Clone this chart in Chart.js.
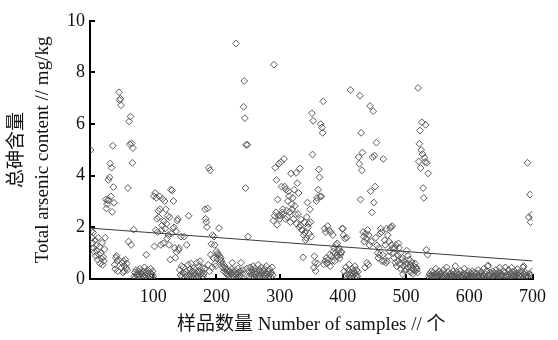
<!DOCTYPE html>
<html>
<head>
<meta charset="utf-8">
<script src="https://cdn.jsdelivr.net/npm/chart.js@4/dist/chart.umd.min.js"></script>
<style>
  body { margin: 0; background: #fff; }
  #wrap { width: 558px; height: 340px; }
</style>
</head>
<body>
<div id="wrap"><canvas id="asChart" width="558" height="340"></canvas></div>
<script>
// Total arsenic content (mg/kg) per sample, 100 samples per array
const arsenic001to100 = [5.0,
  1.85,1.6,1.4,1.8,1.2,1.05,1.5,0.9,1.3,1.1,0.75,1.6,0.95,1.25,0.6,1.0,0.8,1.4,0.55,0.85,0.7,1.15,
  1.6,
  3.08,2.73,2.9,3.05,3.84,3.06,3.94,4.47,3.2,4.31,2.6,5.16,3.56,2.95,
  0.55,0.38,0.82,0.9,0.69,0.3,0.75,7.23,6.92,6.98,6.73,0.44,0.63,0.25,0.69,0.31,0.5,0.75,0.42,0.6,0.35,
  3.52,
  1.45,6.1,5.22,6.29,1.32,5.25,4.5,5.07,1.91,
  0.1,0.25,0.05,0.35,0.15,0.2,0.08,0.3,0.12,0.4,0.05,0.22,0.18,0.1,0.3,0.06,0.45,0.15,0.25,0.94,
  0.1,0.35,0.2,0.05,0.28,0.12,0.4,0.08,0.18,0.3,0.1];
const arsenic101to200 = [3.21,1.26,3.33,1.89,3.14,2.33,1.82,2.64,2.39,3.2,2.7,1.32,1.89,2.08,3.1,1.38,2.23,3.02,1.95,2.7,
  2.14,1.57,2.45,1.7,1.32,2.39,0.75,3.46,1.76,3.43,1.95,3.02,2.0,1.2,0.82,1.85,1.04,2.26,2.33,1.13,
  1.2,0.35,0.15,1.64,0.5,0.1,0.25,0.45,1.64,0.2,0.05,0.3,1.32,0.15,0.55,2.45,0.1,0.38,0.2,0.6,
  0.12,0.3,0.05,0.42,0.2,0.15,0.35,0.08,0.63,0.25,0.1,0.5,0.3,0.69,0.18,0.06,0.44,0.28,0.12,0.2,0.4,
  2.7,2.33,2.2,2.01,2.73,0.55,4.31,0.3,4.21,
  0.94,1.35,0.45,1.7,0.82,1.64,1.32,0.6,0.5,1.07];
const arsenic201to300 = [0.8,1.0,0.94,1.97,0.88,0.75,0.82,0.69,0.6,0.45,0.55,0.3,0.5,0.4,0.25,0.2,0.35,0.15,0.3,
  0.1,0.3,0.05,0.2,0.38,0.63,0.12,0.25,0.08,0.35,0.18,9.12,0.05,0.22,0.4,0.1,0.28,0.15,0.3,0.63,
  0.06,0.2,0.35,6.67,7.67,6.23,3.52,
  5.2,0.4,5.2,1.64,
  0.3,0.1,0.45,0.2,0.05,0.35,0.15,0.5,0.25,0.08,0.4,0.18,0.3,0.05,0.22,0.55,0.12,0.35,0.1,0.28,
  0.45,0.2,0.06,0.32,0.15,0.4,0.1,0.25,0.5,0.18,0.05,0.3,0.12,0.38,0.2,0.08,0.25,0.45,0.15,
  2.26,8.3,2.45,4.31,2.58,3.84,2.1,3.08,2.45,4.47,2.33];
const arsenic301to400 = [2.45,4.53,3.58,2.58,2.7,2.5,4.65,3.58,2.33,3.46,2.65,2.4,3.02,
  3.4,3.21,2.6,2.2,4.09,2.89,2.7,3.14,2.33,3.46,2.83,2.5,4.11,2.14,3.71,2.52,3.33,
  2.01,4.28,2.08,2.3,1.9,1.89,0.84,1.7,2.2,1.8,1.51,1.6,2.4,2.96,2.0,2.14,1.75,
  2.7,2.2,1.64,6.42,4.82,6.13,0.44,0.88,0.63,0.31,
  3.02,3.14,0.6,3.46,4.24,3.94,3.2,6.0,3.2,5.87,5.66,6.88,0.57,
  1.95,0.69,1.82,0.82,0.6,2.05,0.75,1.89,0.94,0.5,1.82,0.88,0.7,1.7,1.07,1.2,0.69,1.0,1.32,0.9,
  1.38,0.88,1.1,1.2,0.8,0.94,1.05,1.04,1.95,1.95];
const arsenic401to500 = [1.7,0.3,1.57,0.12,0.45,1.6,0.2,0.05,0.35,0.56,
  0.15,7.32,0.25,0.08,0.4,0.18,0.3,0.06,0.5,0.22,0.12,0.35,0.1,0.28,4.72,4.46,7.1,3.08,5.66,
  4.21,4.9,1.82,1.64,1.45,0.44,1.76,1.57,0.63,1.9,0.55,1.7,1.32,
  6.7,3.4,1.45,2.58,4.72,6.5,2.96,4.78,3.58,1.6,5.28,1.3,
  1.0,0.82,1.2,0.94,1.76,1.95,1.82,0.69,0.94,4.65,0.69,1.5,1.32,0.63,1.95,0.69,
  1.7,0.88,1.45,1.07,1.97,2.01,1.32,2.05,1.2,1.0,0.82,1.2,0.63,1.32,0.5,0.94,0.69,1.38,1.2,0.57,
  1.0,0.38,0.75,0.82,0.19,0.5,0.69,0.31,0.57,0.38];
const arsenic501to600 = [1.1,0.6,0.9,0.45,0.75,0.3,0.55,0.25,0.65,0.4,0.2,0.5,0.35,0.6,0.3,0.45,0.38,0.25,
  7.4,4.55,5.24,5.75,4.3,4.99,6.07,4.84,3.52,3.14,4.7,4.53,5.97,1.13,4.5,0.94,4.09,
  0.1,0.2,0.05,0.15,0.3,0.08,0.12,0.25,0.03,0.18,0.1,0.4,0.06,0.22,0.14,0.05,0.3,0.1,0.18,0.02,
  0.25,0.12,0.08,0.35,0.15,0.05,0.2,0.1,0.45,0.06,0.28,0.12,0.04,0.18,0.1,0.22,0.08,0.15,0.3,0.05,
  0.12,0.2,0.5,0.1,0.06,0.25,0.15,0.03,0.18,0.1,0.32,0.08,0.14,0.05,0.22,0.12,0.4,0.06,0.18,0.1,
  0.25,0.04,0.15,0.3,0.08];
const arsenic601to700 = [0.12,0.05,0.2,0.1,0.3,0.08,0.15,0.25,0.04,0.18,
  0.1,0.22,0.06,0.35,0.12,0.05,0.2,0.1,0.28,0.08,
  0.15,0.05,0.4,0.12,0.2,0.06,0.3,0.1,0.5,0.52,
  0.15,0.08,0.25,0.04,0.18,0.1,0.3,0.12,0.06,0.22,
  0.1,0.35,0.05,0.2,0.15,0.08,0.28,0.44,0.12,0.2,
  0.05,0.18,0.1,0.3,0.06,0.25,0.45,0.12,0.08,0.2,
  0.1,0.35,0.15,0.05,0.22,0.12,0.44,0.28,0.08,0.18,
  0.1,0.3,0.05,0.2,0.12,0.38,0.06,0.25,0.15,0.1,
  0.22,0.08,0.3,0.12,0.45,0.5,0.18,0.05,0.25,0.1,
  0.15,
  4.5,0.1,2.4,0.2,3.27,2.2,0.15,2.48,0.3];

// trend line end points as drawn in the figure
const trendX = [0, 700];
const trendY = [1.97, 0.70];

const xTicks = [0, 100, 200, 300, 400, 500, 600, 700];
const yTicks = [0, 2, 4, 6, 8, 10];

const allValues = [].concat(arsenic001to100, arsenic101to200, arsenic201to300,
  arsenic301to400, arsenic401to500, arsenic501to600, arsenic601to700);
const samplePoints = allValues.map((v, i) => ({ x: i + 1, y: v }));
const trendPoints = trendX.map((x, i) => ({ x: x, y: trendY[i] }));

const serif = "'Liberation Serif', 'Noto Sans CJK SC', serif";

new Chart(document.getElementById("asChart").getContext("2d"), {
  type: 'scatter',
  data: {
    datasets: [
      {
        type: 'line',
        data: trendPoints,
        borderColor: '#3a3a3a',
        borderWidth: 1,
        pointRadius: 0,
        fill: false
      },
      {
        data: samplePoints,
        pointStyle: 'rectRot',
        pointRadius: 3.4,
        pointBorderWidth: 1,
        borderColor: '#5a5a5a',
        backgroundColor: 'rgba(255,255,255,0)'
      }
    ]
  },
  options: {
    responsive: false,
    animation: false,
    layout: { padding: { top: 14, right: 14, left: 0, bottom: 0 } },
    plugins: { legend: { display: false }, tooltip: { enabled: false } },
    scales: {
      x: {
        type: 'linear',
        min: 0, max: 700,
        afterFit: s => { s.height = 61; },
        afterBuildTicks: s => { s.ticks = xTicks.map(v => ({ value: v })); },
        ticks: {
          callback: v => v === 0 ? '' : v,
          font: { family: serif, size: 18 },
          color: '#111',
          padding: 12,
          maxRotation: 0
        },
        grid: { drawOnChartArea: false, tickLength: -5, color: '#000', lineWidth: 2 },
        border: { color: '#000', width: 2 },
        title: {
          display: true,
          text: '样品数量 Number of samples // 个',
          font: { family: serif, size: 19 },
          color: '#111',
          padding: { top: 0, bottom: 4 }
        }
      },
      y: {
        min: 0, max: 10,
        afterFit: s => { s.width = 90; },
        afterBuildTicks: s => { s.ticks = yTicks.map(v => ({ value: v })); },
        ticks: {
          font: { family: serif, size: 18 },
          color: '#111',
          padding: 10
        },
        grid: { drawOnChartArea: false, tickLength: -5, color: '#000', lineWidth: 2 },
        border: { color: '#000', width: 2 },
        title: {
          display: true,
          text: ['总砷含量', 'Total arsenic content // mg/kg'],
          font: { family: serif, size: 19, lineHeight: 1.37 },
          color: '#111',
          padding: { top: 4, bottom: 0 }
        }
      }
    }
  }
});
</script>
</body>
</html>
